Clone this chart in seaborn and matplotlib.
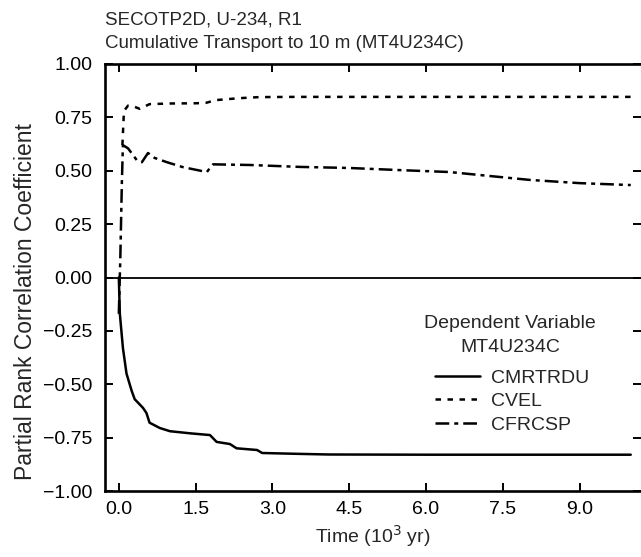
import numpy as np
import pandas as pd
import seaborn as sns
import matplotlib
matplotlib.use("Agg")
import matplotlib.pyplot as plt
from matplotlib.ticker import FuncFormatter

# Values (time in 10^3 yr).
t_cmrtrdu = [0.0, 0.02, 0.08, 0.15, 0.25, 0.31, 0.47, 0.54, 0.6, 0.8, 1.0,
             1.4, 1.78, 1.91, 2.17, 2.3, 2.7, 2.8, 3.5, 4.1, 6.0, 8.0, 10.0]
cmrtrdu = [0.0, -0.17, -0.33, -0.45, -0.53, -0.57, -0.61, -0.635, -0.68,
           -0.705, -0.72, -0.73, -0.738, -0.77, -0.78, -0.80, -0.808, -0.822,
           -0.826, -0.829, -0.83, -0.83, -0.83]

t_cvel = [0.07, 0.1, 0.18, 0.3, 0.41, 0.6, 1.0, 1.5, 1.7, 1.9, 2.36, 2.75,
          3.5, 5.0, 7.0, 10.0]
cvel = [0.62, 0.78, 0.805, 0.80, 0.79, 0.812, 0.815, 0.816, 0.818, 0.831,
        0.84, 0.845, 0.846, 0.846, 0.846, 0.846]

t_cfrcsp = [0.0, 0.03, 0.06, 0.08, 0.18, 0.35, 0.45, 0.57, 0.7, 0.94, 1.25,
            1.72, 1.78, 1.84, 2.56, 3.54, 4.5, 5.49, 6.46, 7.05, 8.03, 9.0, 10.0]
cfrcsp = [-0.17, 0.1, 0.45, 0.62, 0.605, 0.55, 0.54, 0.583, 0.56, 0.54, 0.517,
          0.494, 0.513, 0.53, 0.527, 0.518, 0.513, 0.503, 0.494, 0.48, 0.457,
          0.442, 0.433]

x_ticks = [0.0, 1.5, 3.0, 4.5, 6.0, 7.5, 9.0]
y_ticks = [-1.0, -0.75, -0.5, -0.25, 0.0, 0.25, 0.5, 0.75, 1.0]

sns.set_style("ticks")
plt.rcParams["font.family"] = ["Liberation Sans", "DejaVu Sans"]
plt.rcParams["font.size"] = 14

W, H = 641, 557
fig = plt.figure(figsize=(W / 100, H / 100), dpi=100)
ax = fig.add_axes([105 / W, 1 - 491 / H, 536 / W, 427 / H])

df_m = pd.DataFrame({"t": t_cmrtrdu, "v": cmrtrdu})
df_v = pd.DataFrame({"t": t_cvel, "v": cvel})
df_c = pd.DataFrame({"t": t_cfrcsp, "v": cfrcsp})

lw = 1.8
sns.lineplot(data=df_m, x="t", y="v", ax=ax, color="black", lw=lw,
             label="CMRTRDU", sort=False)
sns.lineplot(data=df_v, x="t", y="v", ax=ax, color="black", lw=lw,
             label="CVEL", sort=False, linestyle=(0, (2.2, 2.6)))
sns.lineplot(data=df_c, x="t", y="v", ax=ax, color="black", lw=lw,
             label="CFRCSP", sort=False, linestyle=(0, (5.5, 2.0, 1.6, 2.0)))

ax.axhline(0, color="black", lw=1.3)

ax.set_xlim(-0.27, 10.2)
ax.set_ylim(-1.0, 1.0)
ax.set_xticks(x_ticks)
ax.set_yticks(y_ticks)
ax.xaxis.set_major_formatter(FuncFormatter(lambda v, p: f"{v:.1f}"))
ax.yaxis.set_major_formatter(
    FuncFormatter(lambda v, p: f"{v:.2f}".replace("-", "\u2212")))

ax.spines["right"].set_visible(False)
for s in ["left", "bottom", "top"]:
    ax.spines[s].set_linewidth(1.9)
    ax.spines[s].set_color("black")

ax.tick_params(axis="both", direction="in", length=6, width=1.4,
               colors="black", labelsize=14)
ax.tick_params(axis="x", top=True, pad=7)
ax.tick_params(axis="y", right=True, pad=9)

ax.set_xlabel("Time (10$^3$ yr)", fontsize=14, labelpad=4)
ax.set_ylabel("Partial Rank Correlation Coefficient", fontsize=16.5)
ax.yaxis.set_label_coords(-(105 - 37) / 536, (491 - 302) / 427)

fig.text(105 / W, 1 - 20 / H, "SECOTP2D, U-234, R1", fontsize=13.5,
         ha="left", va="center")
fig.text(105 / W, 1 - 43 / H, "Cumulative Transport to 10 m (MT4U234C)",
         fontsize=13.5, ha="left", va="center")

# legend heading drawn as plain text, entries via ax.legend
fig.text(510 / W, 1 - 323 / H, "Dependent Variable", fontsize=14,
         ha="center", va="center")
fig.text(510 / W, 1 - 348 / H, "MT4U234C", fontsize=14,
         ha="center", va="center")
leg = ax.legend(loc="upper left", bbox_to_anchor=(435 / W, 1 - 369 / H),
                bbox_transform=fig.transFigure, frameon=False, fontsize=14,
                handlelength=2.3, handletextpad=0.6, labelspacing=0.3,
                borderpad=0, borderaxespad=0)

fig.savefig("out.png", dpi=100)
